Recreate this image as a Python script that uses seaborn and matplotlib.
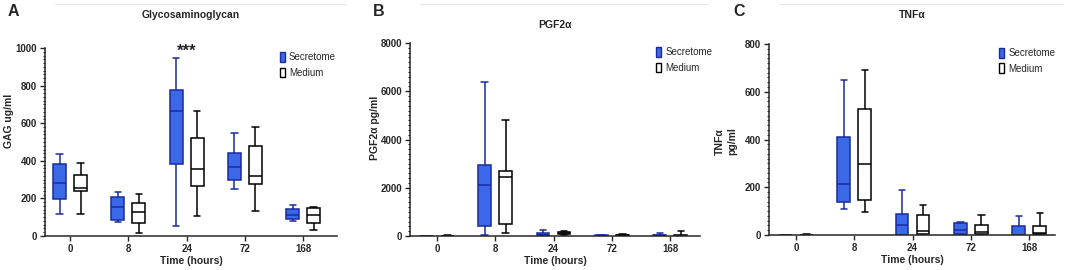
import matplotlib
matplotlib.use("Agg")
import matplotlib.pyplot as plt
import pandas as pd
import seaborn as sns
from matplotlib.patches import Patch
from matplotlib.lines import Line2D
from matplotlib.ticker import AutoMinorLocator, MultipleLocator

times = ['0', '8', '24', '72', '168']
groups = ['Secretome', 'Medium']

# five-number summaries per box: min, q1, median, q3, max
gag_sec = [[115, 196, 283, 382, 434], [76, 85, 156, 209, 235], [55, 381, 665, 779, 949],
           [248, 297, 365, 439, 549], [81, 88, 112, 142, 166]]
gag_med = [[115, 239, 257, 327, 389], [18, 71, 126, 173, 221], [106, 265, 354, 519, 665],
           [135, 278, 320, 480, 581], [32, 71, 112, 150, 156]]

pgf_sec = [[0, 2, 5, 10, 20], [55, 428, 2128, 2943, 6385], [10, 30, 60, 140, 230],
           [0, 5, 15, 30, 50], [0, 10, 30, 60, 120]]
pgf_med = [[0, 3, 8, 15, 30], [110, 497, 2459, 2694, 4795], [60, 90, 140, 170, 200],
           [0, 10, 25, 50, 80], [0, 5, 15, 30, 190]]

tnf_sec = [[0, 0, 0.5, 1, 2], [108, 137, 212, 409, 651], [0, 2, 40, 87, 188],
           [0, 4, 22, 49, 53], [0, 0, 1, 39, 81]]
tnf_med = [[0, 0, 1, 2, 4], [98, 148, 299, 528, 692], [0, 4, 15, 82, 127],
           [0, 4, 13, 42, 84], [0, 4, 8, 36, 91]]

BLUE = '#3a68e6'
NAVY = '#1b2a9e'


def long_df(sec, med):
    rows = []
    for t, s, m in zip(times, sec, med):
        rows += [(t, 'Secretome', v) for v in s]
        rows += [(t, 'Medium', v) for v in m]
    return pd.DataFrame(rows, columns=['time', 'group', 'value'])


sns.set_style('ticks')
plt.rcParams['font.family'] = ['Liberation Sans', 'DejaVu Sans']
plt.rcParams['axes.linewidth'] = 1.1

fig = plt.figure(figsize=(10.84, 2.7), dpi=100)
W, H = 1084, 270

panels = [
    # letter, title, ylabel, sec, med, ymax, ystep, axes box (l, r, top, bottom px), xlim,
    # legend x, letter x, title y, ylabel coords
    ('A', 'Glycosaminoglycan', 'GAG ug/ml', gag_sec, gag_med, 1000, 200,
     (45, 337, 48, 236), (-0.43, 4.58), 0.79, 8, 15, (-0.106, 0.61)),
    ('B', 'PGF2α', 'PGF2α pg/ml', pgf_sec, pgf_med, 8000, 2000,
     (410, 700, 43, 236), (-0.46, 4.51), 0.835, 373, 25, (-0.103, 0.56)),
    ('C', 'TNFα', 'TNFα\npg/ml', tnf_sec, tnf_med, 800, 200,
     (769, 1055, 44, 235), (-0.46, 4.44), 0.79, 733, 15, (-0.112, 0.49)),
]

for letter, title, ylab, sec, med, ymax, ystep, box, xlim, legx, letx, ty, ylc in panels:
    l, r, top, bot = box
    ax = fig.add_axes([l / W, (H - bot) / H, (r - l) / W, (bot - top) / H])
    df = long_df(sec, med)
    sns.boxplot(data=df, x='time', y='value', hue='group', order=times, hue_order=groups,
                palette={'Secretome': BLUE, 'Medium': 'white'}, whis=(0, 100),
                width=0.72, gap=0.39, linewidth=1.1, fliersize=0, legend=False,
                saturation=1, ax=ax)
    for cont, ec in zip(ax.containers, [NAVY, 'black']):
        for b in cont.boxes:
            b.set_edgecolor(ec)
        for ln in list(cont.whiskers) + list(cont.caps) + list(cont.medians):
            ln.set_color(ec)
            ln.set_linewidth(1.1)

    ax.set_xlim(*xlim)
    ax.set_ylim(0, ymax)
    ax.yaxis.set_major_locator(MultipleLocator(ystep))
    ax.yaxis.set_minor_locator(AutoMinorLocator(10))
    ax.tick_params(axis='both', which='major', length=3.5, width=1.0, labelsize=7, pad=2)
    ax.tick_params(axis='y', which='minor', length=1.8, width=0.8)
    for lab in ax.get_xticklabels() + ax.get_yticklabels():
        lab.set_fontweight('bold')
    sns.despine(ax=ax)
    ax.set_xlabel('Time (hours)', fontsize=7.5, fontweight='bold', labelpad=2)
    ax.set_ylabel(ylab, fontsize=7.5, fontweight='bold')
    ax.yaxis.set_label_coords(*ylc)

    fig.text(((l + r) / 2) / W, 1 - ty / H, title, ha='center', va='center',
             fontsize=7.5, fontweight='bold')
    fig.text(letx / W, 1 - 11 / H, letter, ha='left', va='center',
             fontsize=11.5, fontweight='bold')

    handles = [Patch(facecolor=BLUE, edgecolor=NAVY, lw=1.0),
               Patch(facecolor='white', edgecolor='black', lw=1.0)]
    ax.legend(handles, groups, loc='upper left', bbox_to_anchor=(legx, 1.0),
              frameon=False, fontsize=7, handlelength=0.55, handleheight=1.2,
              handletextpad=0.4, labelspacing=0.55, borderaxespad=0)

    # faint separator line from the figure assembly
    fig.add_artist(Line2D([(l + 10) / W, min(r + 8, W) / W], [1 - 4 / H, 1 - 4 / H],
                          color='#e6e6e6', lw=0.8))

# significance marker on 24 h
axA = fig.axes[0]
axA.text(2, 985, '***', ha='center', va='center', fontsize=12, fontweight='bold')

fig.savefig('out.png', dpi=100)
